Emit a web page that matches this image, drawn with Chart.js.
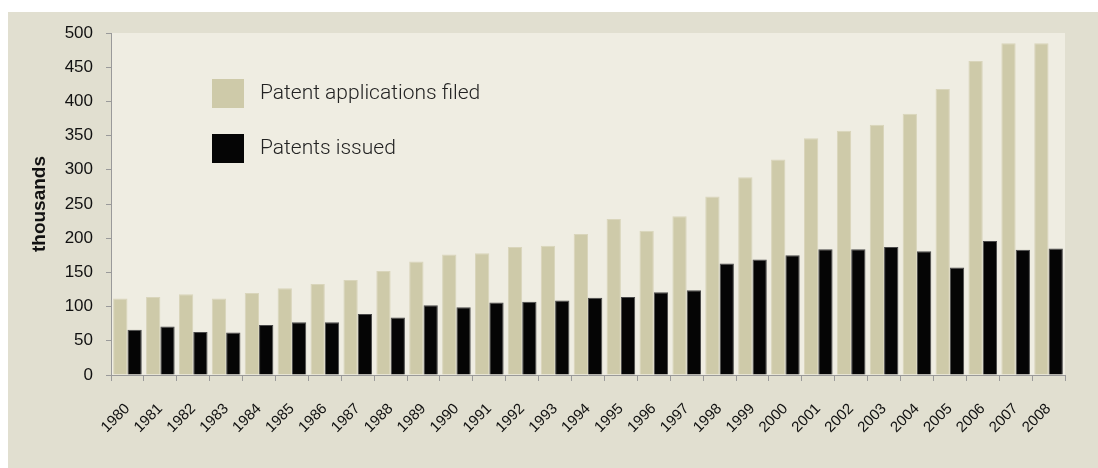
<!DOCTYPE html>
<html>
<head>
<meta charset="utf-8">
<script src="https://cdn.jsdelivr.net/npm/chart.js@4/dist/chart.umd.min.js"></script>
<style>
  html, body { margin: 0; padding: 0; background: #ffffff; }
  #wrap { position: relative; width: 1098px; height: 468px; }
</style>
</head>
<body>
<div id="wrap"><canvas id="patentChart" width="1098" height="468"></canvas></div>
<script>
// --- DATA ---
const years = ['1980', '1981', '1982', '1983', '1984', '1985', '1986', '1987', '1988', '1989',
               '1990', '1991', '1992', '1993', '1994', '1995', '1996', '1997', '1998', '1999',
               '2000', '2001', '2002', '2003', '2004', '2005', '2006', '2007', '2008'];
const applicationsFiled = [112, 114, 118, 112, 120, 127, 133, 139, 152, 166,
                           176, 178, 187, 189, 206, 228, 211, 232, 261, 289,
                           315, 346, 357, 366, 382, 418, 459, 485, 485];
const patentsIssued = [66, 71, 63, 62, 73, 77, 77, 89, 84, 102,
                       99, 106, 107, 109, 113, 114, 121, 124, 163, 169,
                       175, 184, 184, 187, 181, 157, 196, 183, 185];
const yTicks = [0, 50, 100, 150, 200, 250, 300, 350, 400, 450, 500];

// --- BACKGROUND: outer frame + inner plot panel ---
const backdrop = {
    id: 'backdrop',
    beforeDraw(chart) {
        const { ctx, chartArea } = chart;
        ctx.save();
        ctx.fillStyle = '#ffffff';
        ctx.fillRect(0, 0, chart.width, chart.height);
        ctx.fillStyle = '#e1dfd0';
        ctx.fillRect(8, 12, chart.width - 8, chart.height - 12);
        ctx.fillStyle = '#efede2';
        ctx.fillRect(chartArea.left, chartArea.top, chartArea.right - chartArea.left, chartArea.bottom - chartArea.top);
        ctx.restore();
    }
};

// --- LEGEND drawn inside the plot panel ---
const innerLegend = {
    id: 'innerLegend',
    afterDraw(chart) {
        const { ctx } = chart;
        ctx.save();
        ctx.font = '300 21px Roboto, "Liberation Sans", sans-serif';
        ctx.textBaseline = 'middle';
        chart.data.datasets.forEach((ds, i) => {
            const y = 79 + i * 55;
            ctx.fillStyle = ds.backgroundColor;
            ctx.fillRect(212, y, 32, 29);
            ctx.fillStyle = '#222222';
            ctx.fillText(ds.label, 260, y + 15);
        });
        ctx.restore();
    }
};

const ctx = document.getElementById('patentChart').getContext('2d');
window.patentChart = new Chart(ctx, {
    type: 'bar',
    data: {
        labels: years,
        datasets: [
            { label: 'Patent applications filed', data: applicationsFiled, backgroundColor: '#cecaa9', borderColor: '#d9d5bb', borderWidth: 1 },
            { label: 'Patents issued', data: patentsIssued, backgroundColor: '#050505', borderColor: '#4a4a4a', borderWidth: 1 }
        ]
    },
    options: {
        responsive: false,
        animation: false,
        categoryPercentage: 0.87,
        barPercentage: 1.0,
        layout: { padding: { left: 0, top: 33, right: 33, bottom: 0 } },
        plugins: {
            legend: { display: false },
            tooltip: { enabled: false }
        },
        scales: {
            x: {
                afterFit: (scale) => { scale.height = 93; },
                border: { color: '#9a9a9a', width: 1 },
                grid: { offset: true, drawOnChartArea: false, drawTicks: true, tickLength: 6, color: '#9a9a9a' },
                ticks: {
                    color: '#111111',
                    font: { family: '"Liberation Sans", Arial, sans-serif', size: 15 },
                    minRotation: 45,
                    maxRotation: 45,
                    autoSkip: false,
                    padding: 19
                }
            },
            y: {
                min: 0,
                max: 500,
                afterBuildTicks: (scale) => { scale.ticks = yTicks.map(v => ({ value: v })); },
                afterFit: (scale) => { scale.width = 111; },
                border: { color: '#9a9a9a', width: 1 },
                grid: { drawOnChartArea: false, drawTicks: true, tickLength: 5, color: '#9a9a9a' },
                ticks: {
                    color: '#111111',
                    font: { family: '"Liberation Sans", Arial, sans-serif', size: 17 },
                    padding: 13
                },
                title: {
                    display: true,
                    text: 'thousands',
                    color: '#111111',
                    font: { family: '"Liberation Sans", Arial, sans-serif', size: 19, weight: 'bold' },
                    padding: { top: 28, bottom: 0 }
                }
            }
        }
    },
    plugins: [backdrop, innerLegend]
});
</script>
</body>
</html>
